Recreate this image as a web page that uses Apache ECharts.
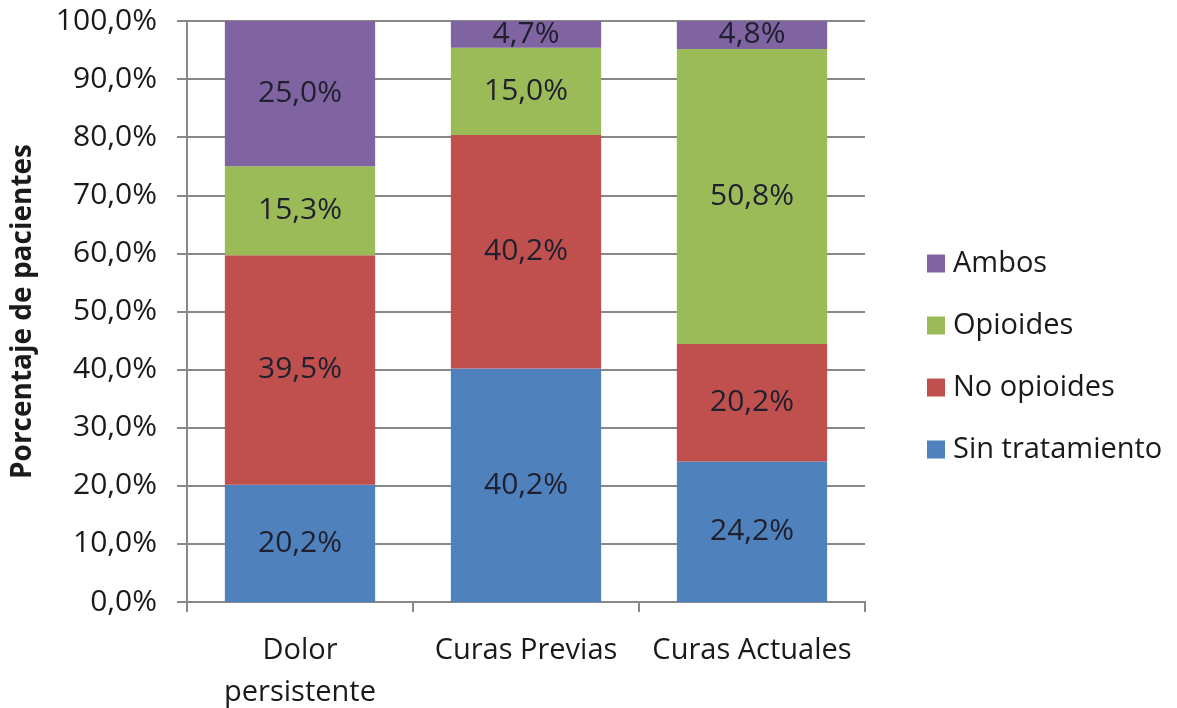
<!DOCTYPE html>
<html>
<head>
<meta charset="utf-8">
<script src="https://cdn.jsdelivr.net/npm/echarts@6/dist/echarts.min.js"></script>
<style>
html, body { margin: 0; padding: 0; background: #fff; }
#main { width: 1177px; height: 708px; }
</style>
</head>
<body>
<div id="main"></div>
<script>
// datos
var categorias = ['Dolor\npersistente', 'Curas Previas', 'Curas Actuales'];
var sinTratamiento = [20.2, 40.2, 24.2];
var noOpioides = [39.5, 40.2, 20.2];
var opioides = [15.3, 15.0, 50.8];
var ambos = [25.0, 4.7, 4.8];

var fuente = '"Open Sans", "Noto Sans", sans-serif';

function fmt(v) {
    return v.toFixed(1).replace('.', ',') + '%';
}

function serie(nombre, datos, color) {
    return {
        name: nombre,
        type: 'bar',
        stack: 'total',
        barCategoryGap: '33.5%',
        data: datos,
        itemStyle: { color: color },
        label: {
            show: true,
            position: 'inside',
            color: '#1f1f2e',
            fontFamily: fuente,
            fontSize: 30,
            formatter: function (p) { return fmt(p.value); }
        }
    };
}

var chart = echarts.init(document.getElementById('main'));
chart.setOption({
    animation: false,
    textStyle: { fontFamily: fuente },
    grid: { left: 187, right: 312, top: 21, bottom: 106, containLabel: false, outerBoundsMode: 'none' },
    legend: {
        orient: 'vertical',
        left: 922,
        top: 244,
        itemWidth: 18,
        itemHeight: 18,
        itemGap: 33,
        icon: 'rect',
        textStyle: { fontSize: 29, color: '#1a1a1a', fontFamily: fuente, padding: [0, 0, 0, 3] },
        data: ['Ambos', 'Opioides', 'No opioides', 'Sin tratamiento']
    },
    xAxis: {
        type: 'category',
        data: categorias,
        axisLine: { lineStyle: { color: '#888', width: 2 } },
        axisTick: { show: true, length: 10, lineStyle: { color: '#888', width: 2 } },
        axisLabel: { fontSize: 29, color: '#1a1a1a', margin: 28, lineHeight: 42, interval: 0 }
    },
    yAxis: {
        type: 'value',
        min: 0,
        max: 100,
        interval: 10,
        name: 'Porcentaje de pacientes',
        nameLocation: 'middle',
        nameGap: 150,
        nameTextStyle: { fontSize: 28, fontWeight: 'bold', color: '#1a1a1a' },
        axisLine: { show: true, lineStyle: { color: '#888', width: 2 } },
        axisTick: { show: true, length: 10, lineStyle: { color: '#888', width: 2 } },
        splitLine: { lineStyle: { color: '#888', width: 2 } },
        axisLabel: { fontSize: 30, color: '#1a1a1a', margin: 30, formatter: fmt }
    },
    series: [
        serie('Sin tratamiento', sinTratamiento, '#4f81bd'),
        serie('No opioides', noOpioides, '#c0504d'),
        serie('Opioides', opioides, '#9bbb59'),
        serie('Ambos', ambos, '#8064a2')
    ]
});
</script>
</body>
</html>
